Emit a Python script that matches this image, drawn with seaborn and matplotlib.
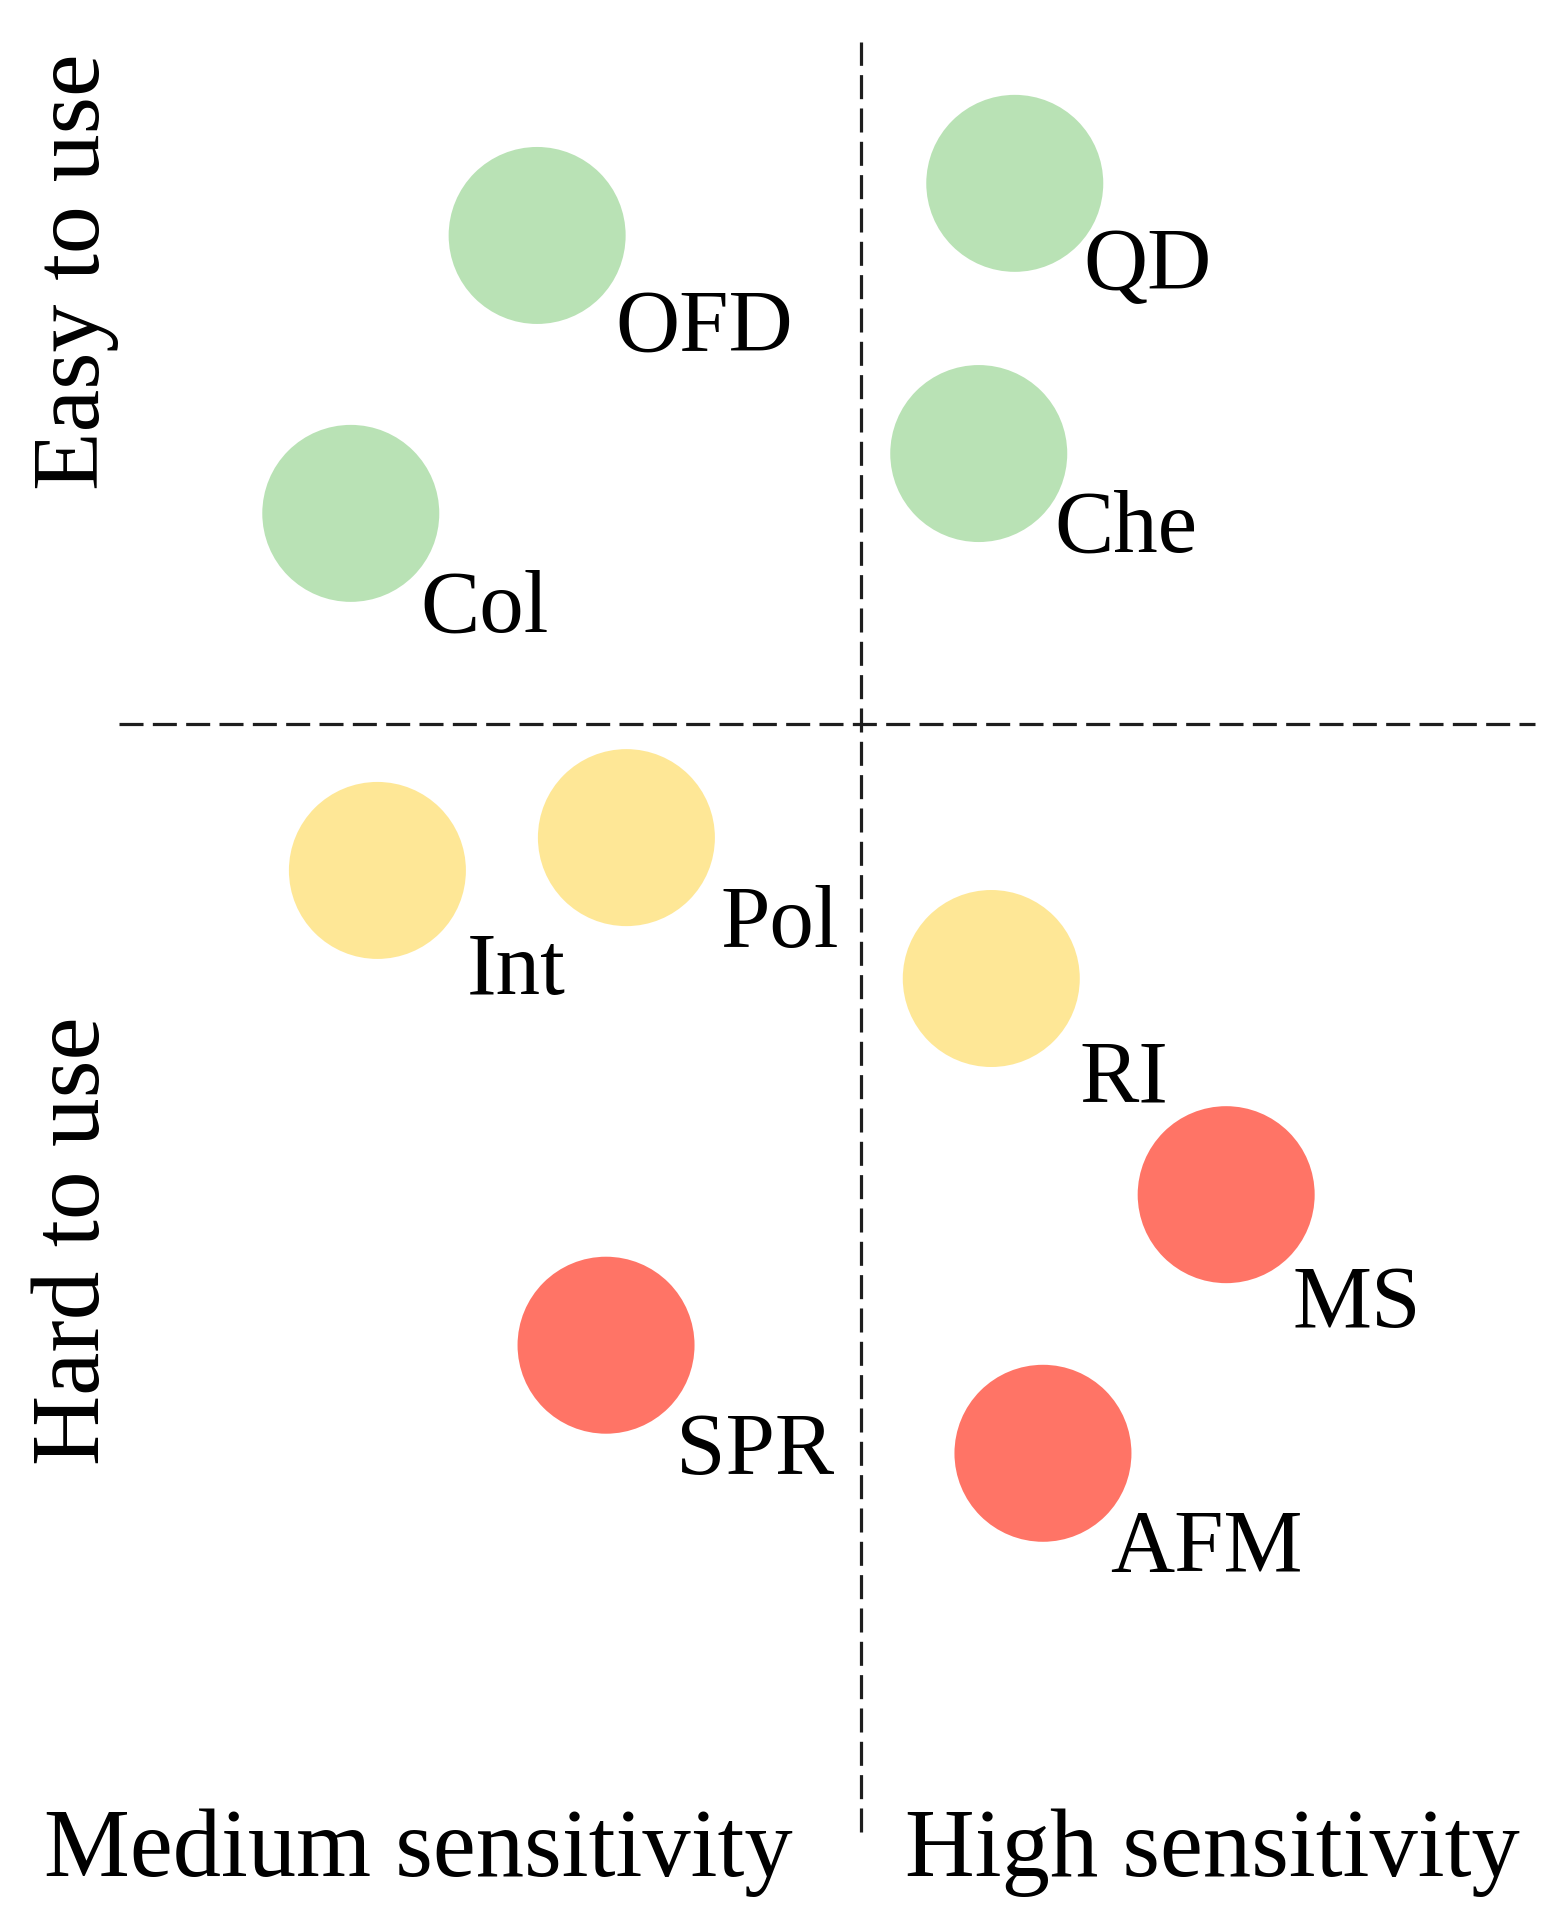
import matplotlib
matplotlib.use("Agg")
import matplotlib.pyplot as plt
import seaborn as sns
import pandas as pd

# ---------------- data ----------------
methods = ["OFD", "QD", "Che", "Col", "Int", "Pol", "RI", "MS", "SPR", "AFM"]
sensitivity = [34.3, 64.8, 62.5, 22.4, 24.1, 40.0, 63.3, 78.3, 38.7, 66.6]
ease = [87.8, 90.5, 76.5, 73.4, 54.9, 56.6, 49.3, 38.1, 30.3, 24.7]
difficulty = ["easy", "easy", "easy", "easy", "medium", "medium", "medium",
              "hard", "hard", "hard"]

quadrant_x_labels = ["Medium sensitivity", "High sensitivity"]
quadrant_y_labels = ["Easy to use", "Hard to use"]

sens_split = 55.0
ease_split = 62.5

# ---------------- styling ----------------
palette = {"easy": "#b9e2b5", "medium": "#fee796", "hard": "#ff7466"}
# label offsets from circle centre (pixels at 100 dpi): right, down
label_offsets_px = {
    "OFD": (78, 115), "QD": (69, 106), "Che": (76, 98), "Col": (70, 118),
    "Int": (89, 124), "Pol": (94, 109), "RI": (88, 123), "MS": (66, 132),
    "SPR": (70, 129), "AFM": (67, 118),
}

sns.set_theme(style="white")
plt.rcParams["font.family"] = ["Liberation Serif", "DejaVu Serif"]
plt.rcParams["lines.scale_dashes"] = False

df = pd.DataFrame({"method": methods, "sensitivity": sensitivity,
                   "ease": ease, "difficulty": difficulty})

fig = plt.figure(figsize=(15.66, 19.30), dpi=100)
ax = fig.add_axes([0, 0, 1, 1])
ax.set_xlim(0, 100)
ax.set_ylim(0, 100)
ax.axis("off")

dash = (0, (17.3, 6.7))
ax.plot([sens_split, sens_split], [5.1, 97.8], color="#1e1e1e", lw=2.3, linestyle=dash, zorder=1)
ax.plot([7.6, 98.0], [ease_split, ease_split], color="#1e1e1e", lw=2.3, linestyle=dash, zorder=1)

sns.scatterplot(data=df, x="sensitivity", y="ease", hue="difficulty",
                palette=palette, s=16240, linewidth=0, alpha=1.0,
                legend=False, ax=ax, zorder=2)
ax.set_xlabel("")
ax.set_ylabel("")
ax.set_xlim(0, 100)
ax.set_ylim(0, 100)

for m, xv, yv in zip(methods, sensitivity, ease):
    dx, dy = label_offsets_px[m]
    ax.annotate(m, (xv, yv), xytext=(dx * 0.72, -dy * 0.72),
                textcoords="offset points", ha="left", va="baseline",
                fontsize=64, color="black", zorder=3)

# quadrant labels
ax.text(26.7, 2.8, quadrant_x_labels[0], ha="center", va="baseline",
        fontsize=69.5, color="black")
ax.text(77.4, 2.8, quadrant_x_labels[1], ha="center", va="baseline",
        fontsize=69.5, color="black")
ax.text(6.3, 85.9, quadrant_y_labels[0], ha="center", va="baseline",
        rotation=90, rotation_mode="anchor", fontsize=69, color="black")
ax.text(6.3, 35.7, quadrant_y_labels[1], ha="center", va="baseline",
        rotation=90, rotation_mode="anchor", fontsize=70, color="black")

fig.savefig("out.png", dpi=100, facecolor="white")
